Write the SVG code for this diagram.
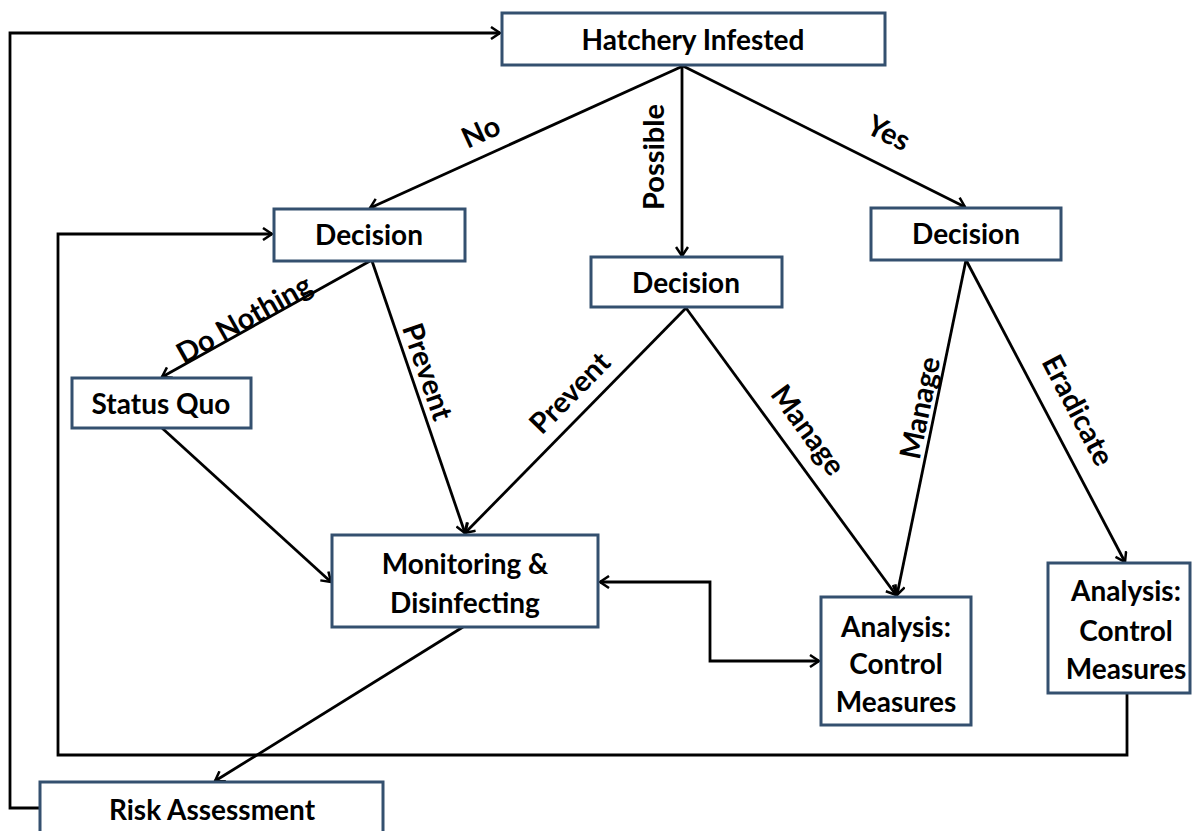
<svg xmlns="http://www.w3.org/2000/svg" width="1193" height="831" viewBox="0 0 1193 831">
<defs>
<marker id="arr" markerWidth="14" markerHeight="14" refX="11" refY="7" orient="auto-start-reverse" markerUnits="userSpaceOnUse">
<path d="M2,1 L11,7 L2,13" fill="none" stroke="#000" stroke-width="2.5"/>
</marker>
<style>
.box{fill:#fff;stroke:#34506f;stroke-width:3}
.t{font-family:Lato,"Liberation Sans",sans-serif;font-weight:bold;font-size:28px;fill:#000;text-anchor:middle}
.l{font-family:Lato,"Liberation Sans",sans-serif;font-weight:bold;font-size:29px;fill:#000;text-anchor:middle}
.c{fill:none;stroke:#000;stroke-width:2.8}
.a{marker-end:url(#arr)}
</style>
</defs>
<rect width="1193" height="831" fill="#fff"/>
<g id="connectors">
<path class="c a" d="M40,808 H10 V33 H500"/>
<path class="c a" d="M1127,693 V755 H58 V234 H272"/>
<path class="c a" d="M683,66 L370,208"/>
<path class="c a" d="M682,66 V256"/>
<path class="c a" d="M683,66 L965,207"/>
<path class="c a" d="M370,261 L162,377"/>
<path class="c a" d="M372,261 L465,533"/>
<path class="c a" d="M686,308 L465,533"/>
<path class="c a" d="M686,308 L896,595"/>
<path class="c a" d="M966,260 L897,595"/>
<path class="c a" d="M966,260 L1125,562"/>
<path class="c a" d="M162,428 L331,582"/>
<path class="c a" d="M463,627 L215,781"/>
<path class="c a" d="M600,582 H710 V661 H819" style="marker-start:url(#arr)"/>
</g>
<g id="labels">
<text class="l" transform="translate(485,141) rotate(-24.6)">No</text>
<text class="l" transform="translate(664,157) rotate(-90)">Possible</text>
<text class="l" transform="translate(884,142) rotate(26.7)">Yes</text>
<text class="l" transform="translate(249,328) rotate(-29.4)">Do Nothing</text>
<text class="l" transform="translate(418,375) rotate(71.1)">Prevent</text>
<text class="l" transform="translate(577,400) rotate(-45.5)">Prevent</text>
<text class="l" transform="translate(800,436) rotate(53.9)">Manage</text>
<text class="l" transform="translate(930,410) rotate(-78.4)">Manage</text>
<text class="l" transform="translate(1069,415) rotate(62.3)">Eradicate</text>
</g>
<g id="hatchery"><rect class="box" x="502" y="13" width="383" height="52"/><text class="t" x="693" y="50">Hatchery Infested</text></g>
<g id="decision-no"><rect class="box" x="274" y="209" width="191" height="52"/><text class="t" x="369" y="245">Decision</text></g>
<g id="decision-possible"><rect class="box" x="591" y="257" width="191" height="50"/><text class="t" x="686" y="293">Decision</text></g>
<g id="decision-yes"><rect class="box" x="871" y="208" width="190" height="52"/><text class="t" x="966" y="244">Decision</text></g>
<g id="status-quo"><rect class="box" x="72" y="378" width="179" height="50"/><text class="t" x="161" y="414">Status Quo</text></g>
<g id="monitoring"><rect class="box" x="332" y="535" width="266" height="92"/><text class="t" x="465" y="574">Monitoring &amp;</text><text class="t" x="465" y="613">Disinfecting</text></g>
<g id="analysis-manage"><rect class="box" x="821" y="597" width="150" height="128"/><text class="t" x="896" y="637">Analysis:</text><text class="t" x="896" y="674">Control</text><text class="t" x="896" y="712">Measures</text></g>
<g id="analysis-eradicate"><rect class="box" x="1048" y="563" width="142" height="130"/><text class="t" x="1126" y="601">Analysis:</text><text class="t" x="1126" y="641">Control</text><text class="t" x="1126" y="679">Measures</text></g>
<g id="risk"><rect class="box" x="40" y="782" width="343" height="62"/><text class="t" x="212" y="820">Risk Assessment</text></g>
</svg>
